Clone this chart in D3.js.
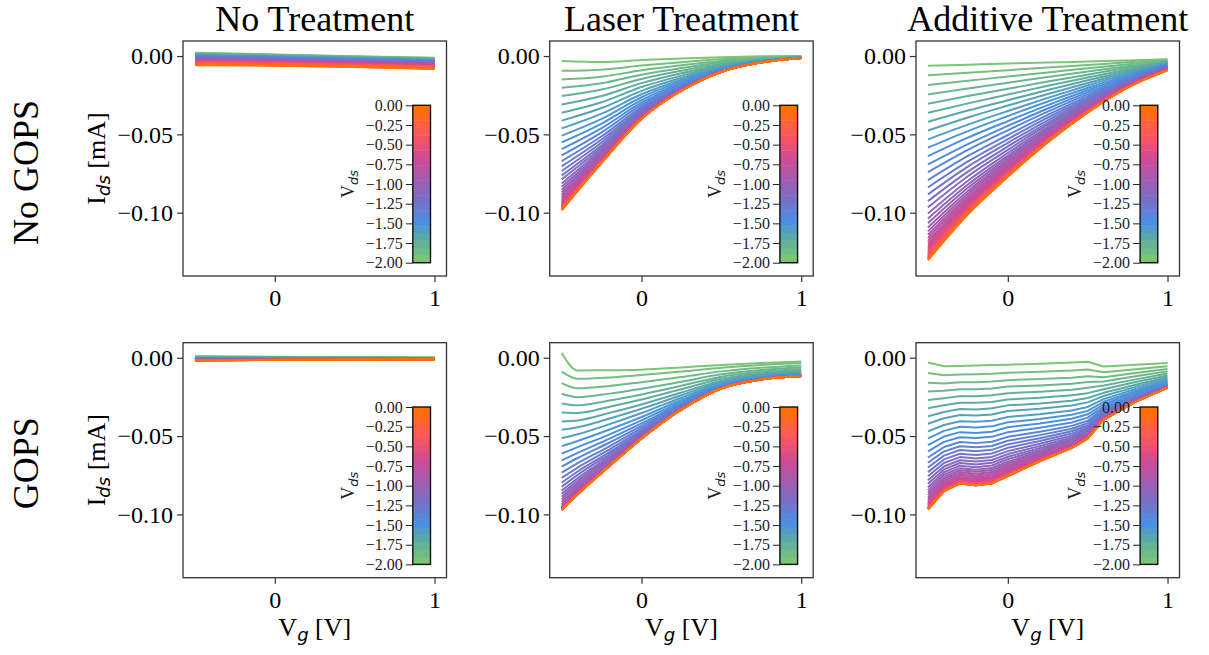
<!DOCTYPE html>
<html>
<head>
<meta charset="utf-8">
<script src="https://cdn.jsdelivr.net/npm/d3@7"></script>
<style>
  body { margin: 0; background: #fff; }
  text { font-family: "Liberation Serif", "Times New Roman", serif; }
</style>
</head>
<body>
<svg id="chart" width="1209" height="655"></svg>
<script>
// drain voltage of each curve (colour), gate voltages, currents in uA
var vdsLevels = [-2.00,-1.95,-1.90,-1.85,-1.80,-1.75,-1.70,-1.65,-1.60,-1.55,-1.50,-1.45,-1.40,-1.35,-1.30,-1.25,-1.20,-1.15,-1.10,-1.05,-1.00,
  -0.95,-0.90,-0.85,-0.80,-0.75,-0.70,-0.65,-0.60,-0.55,-0.50,-0.45,-0.40,-0.35,-0.30,-0.25,-0.20,-0.15,-0.10,-0.05,0.00];

var rowNames = ["No GOPS", "GOPS"];
var colNames = ["No Treatment", "Laser Treatment", "Additive Treatment"];
var yTicks = [0, -0.05, -0.10];
var xTicks = [0, 1];
var cbarTicks = [0, -0.25, -0.5, -0.75, -1.0, -1.25, -1.5, -1.75, -2.0];

var vgNoTreat = [-0.5, 0, 0.5, 1];
var idNoGopsNone = [
[2.1,1.0,-0.1,-1.1],[1.9,0.8,-0.3,-1.3],[1.7,0.6,-0.4,-1.5],[1.5,0.5,-0.6,-1.6],[1.3,0.3,-0.8,-1.8],
[1.1,0.1,-1.0,-2.0],[0.9,-0.1,-1.1,-2.2],[0.7,-0.3,-1.3,-2.4],[0.5,-0.4,-1.5,-2.5],[0.3,-0.6,-1.7,-2.7],
[0.1,-0.8,-1.8,-2.9],[-0.1,-1.0,-2.0,-3.1],[-0.3,-1.2,-2.2,-3.3],[-0.5,-1.3,-2.3,-3.4],[-0.7,-1.5,-2.5,-3.6],
[-0.9,-1.7,-2.7,-3.8],[-1.1,-1.9,-2.9,-4.0],[-1.3,-2.1,-3.0,-4.2],[-1.5,-2.2,-3.2,-4.3],[-1.7,-2.4,-3.4,-4.5],
[-1.9,-2.6,-3.6,-4.7],[-2.0,-2.8,-3.7,-4.9],[-2.2,-3.0,-3.9,-5.1],[-2.4,-3.1,-4.1,-5.2],[-2.6,-3.3,-4.2,-5.4],
[-2.8,-3.5,-4.4,-5.6],[-3.0,-3.7,-4.6,-5.8],[-3.2,-3.9,-4.8,-6.0],[-3.4,-4.0,-4.9,-6.1],[-3.6,-4.2,-5.1,-6.3],
[-3.8,-4.4,-5.3,-6.5],[-4.0,-4.6,-5.4,-6.7],[-4.2,-4.8,-5.6,-6.9],[-4.4,-4.9,-5.8,-7.0],[-4.6,-5.1,-6.0,-7.2],
[-4.8,-5.3,-6.1,-7.4],[-5.0,-5.5,-6.3,-7.6],[-5.2,-5.7,-6.5,-7.8],[-5.4,-5.8,-6.7,-7.9],[-5.6,-6.0,-6.8,-8.1],
[-5.8,-6.2,-7.0,-8.3]];

var vgLaser = [-0.5, -0.25, 0, 0.25, 0.5, 0.75, 1];
var idNoGopsLaser = [
[-3.2,-3.8,-2.6,-1.6,-0.8,-0.2,0],[-9.4,-8.7,-6.1,-3.9,-2.1,-0.8,-0.2],[-14.9,-13.2,-9.1,-5.9,-3.1,-1.3,-0.3],
[-20.2,-17.3,-11.9,-7.7,-4.0,-1.7,-0.5],[-25.5,-21.4,-14.6,-9.4,-4.9,-2.0,-0.6],[-30.9,-25.5,-17.3,-11.0,-5.7,-2.4,-0.7],
[-36.2,-29.5,-19.8,-12.5,-6.4,-2.7,-0.8],[-41.2,-33.2,-22.2,-13.9,-7.0,-2.9,-0.9],[-46.2,-36.8,-24.4,-15.1,-7.6,-3.2,-0.9],
[-50.8,-40.1,-26.3,-16.2,-8.0,-3.3,-1.0],[-55.1,-43.1,-28.1,-17.1,-8.4,-3.5,-1.0],[-59.4,-46.0,-29.8,-17.9,-8.7,-3.6,-1.1],
[-63.4,-48.7,-31.2,-18.6,-9.0,-3.7,-1.1],[-67.1,-51.2,-32.6,-19.3,-9.2,-3.8,-1.1],[-70.4,-53.3,-33.7,-19.8,-9.4,-3.8,-1.1],
[-73.4,-55.2,-34.7,-20.2,-9.5,-3.9,-1.2],[-76.2,-56.9,-35.5,-20.5,-9.6,-3.9,-1.2],[-78.7,-58.4,-36.2,-20.8,-9.7,-3.9,-1.2],
[-81.3,-59.8,-36.9,-21.1,-9.8,-4.0,-1.2],[-83.4,-61.1,-37.5,-21.3,-9.8,-4.0,-1.2],[-85.3,-62.1,-37.9,-21.4,-9.9,-4.0,-1.2],
[-87.0,-63.0,-38.3,-21.6,-9.9,-4.0,-1.2],[-88.5,-63.8,-38.6,-21.7,-9.9,-4.0,-1.2],[-89.9,-64.5,-38.9,-21.7,-10.0,-4.0,-1.2],
[-91.2,-65.1,-39.1,-21.8,-10.0,-4.0,-1.2],[-92.3,-65.7,-39.3,-21.9,-10.0,-4.0,-1.2],[-93.3,-66.1,-39.5,-21.9,-10.0,-4.0,-1.2],
[-94.1,-66.5,-39.6,-21.9,-10.0,-4.0,-1.2],[-94.9,-66.8,-39.7,-21.9,-10.0,-4.0,-1.2],[-95.5,-67.1,-39.8,-22.0,-10.0,-4.0,-1.2],
[-96.1,-67.3,-39.9,-22.0,-10.0,-4.0,-1.2],[-96.6,-67.5,-39.9,-22.0,-10.0,-4.0,-1.2],[-97.0,-67.6,-39.9,-22.0,-10.0,-4.0,-1.2],
[-97.3,-67.7,-40.0,-22.0,-10.0,-4.0,-1.2],[-97.6,-67.8,-40.0,-22.0,-10.0,-4.0,-1.2],[-97.8,-67.9,-40.0,-22.0,-10.0,-4.0,-1.2],
[-98.0,-67.9,-40.0,-22.0,-10.0,-4.0,-1.2],[-98.1,-68.0,-40.0,-22.0,-10.0,-4.0,-1.2],[-98.2,-68.0,-40.0,-22.0,-10.0,-4.0,-1.2],
[-98.3,-68.0,-40.0,-22.0,-10.0,-4.0,-1.2],[-98.3,-68.0,-40.0,-22.0,-10.0,-4.0,-1.2]];

var vgAdditive = [-0.5, -0.25, 0, 0.25, 0.5, 0.75, 1];
var idNoGopsAdditive = [
[-6.2,-5.5,-4.8,-4.2,-3.5,-2.8,-2.1],[-12.3,-10.6,-9.0,-7.3,-5.7,-4.0,-2.4],[-18.5,-15.8,-13.1,-10.5,-7.8,-5.3,-2.8],
[-24.5,-20.7,-17.0,-13.4,-9.9,-6.5,-3.1],[-30.4,-25.5,-20.9,-16.3,-11.9,-7.5,-3.5],[-36.2,-30.2,-24.6,-19.0,-13.7,-8.6,-3.8],
[-42.0,-34.8,-28.2,-21.7,-15.5,-9.6,-4.1],[-47.5,-39.2,-31.6,-24.2,-17.2,-10.5,-4.4],[-53.2,-43.8,-35.1,-26.7,-18.8,-11.4,-4.7],
[-58.5,-47.9,-38.3,-29.0,-20.4,-12.2,-5.0],[-63.9,-52.1,-41.5,-31.3,-21.8,-13.0,-5.3],[-69.2,-56.2,-44.6,-33.5,-23.2,-13.8,-5.6],
[-74.1,-59.9,-47.4,-35.5,-24.5,-14.4,-5.9],[-79.2,-63.8,-50.4,-37.5,-25.7,-15.1,-6.2],[-83.9,-67.3,-53.0,-39.3,-26.9,-15.7,-6.4],
[-88.3,-70.6,-55.4,-41.0,-27.9,-16.2,-6.7],[-92.6,-73.8,-57.7,-42.6,-28.9,-16.7,-6.9],[-96.6,-76.7,-59.9,-44.0,-29.8,-17.2,-7.1],
[-100.5,-79.6,-61.9,-45.4,-30.5,-17.5,-7.3],[-103.7,-82.0,-63.7,-46.5,-31.3,-17.8,-7.5],[-106.7,-84.1,-65.2,-47.5,-31.9,-18.1,-7.7],
[-109.4,-86.1,-66.6,-48.4,-32.4,-18.4,-7.8],[-111.9,-87.9,-67.9,-49.2,-32.8,-18.6,-8.0],[-114.1,-89.5,-69.1,-50.0,-33.2,-18.8,-8.1],
[-116.1,-91.0,-70.0,-50.6,-33.7,-19.0,-8.2],[-118.0,-92.2,-71.0,-51.2,-34.0,-19.1,-8.3],[-119.6,-93.4,-71.8,-51.7,-34.2,-19.2,-8.4],
[-121.1,-94.5,-72.5,-52.2,-34.5,-19.4,-8.5],[-122.5,-95.5,-73.3,-52.7,-34.8,-19.5,-8.6],[-123.7,-96.3,-73.8,-52.9,-35.0,-19.6,-8.6],
[-124.8,-97.1,-74.4,-53.3,-35.2,-19.6,-8.7],[-125.8,-97.8,-74.9,-53.6,-35.3,-19.8,-8.8],[-126.7,-98.4,-75.3,-53.8,-35.5,-19.8,-8.8],
[-127.4,-99.0,-75.6,-54.1,-35.6,-19.9,-8.8],[-128.0,-99.3,-75.9,-54.3,-35.7,-19.9,-8.9],[-128.5,-99.7,-76.1,-54.5,-35.8,-19.9,-8.9],
[-129.0,-100.1,-76.4,-54.6,-35.8,-20.0,-8.9],[-129.4,-100.4,-76.6,-54.8,-35.9,-20.0,-9.0],[-129.8,-100.7,-76.8,-54.9,-36.0,-20.0,-9.0],
[-130.0,-100.9,-76.9,-55.0,-36.0,-20.0,-9.0],[-130.3,-101.0,-77.0,-55.0,-36.0,-20.0,-9.0]];

var vgGopsNoTreat = [-0.5, 1];
var idGopsNone = [
[0.9,0.1],[0.74,0.03],[0.59,-0.04],[0.45,-0.1],[0.32,-0.16],[0.17,-0.22],[0.03,-0.28],[-0.1,-0.34],[-0.23,-0.4],[-0.35,-0.45],
[-0.47,-0.5],[-0.58,-0.55],[-0.68,-0.6],[-0.78,-0.64],[-0.87,-0.68],[-0.95,-0.71],[-1.02,-0.74],[-1.09,-0.77],[-1.15,-0.8],[-1.21,-0.83],
[-1.26,-0.85],[-1.3,-0.87],[-1.34,-0.89],[-1.38,-0.9],[-1.41,-0.92],[-1.44,-0.93],[-1.47,-0.94],[-1.49,-0.95],[-1.51,-0.96],[-1.53,-0.97],
[-1.54,-0.97],[-1.56,-0.98],[-1.57,-0.98],[-1.57,-0.99],[-1.58,-0.99],[-1.59,-0.99],[-1.59,-1.0],[-1.6,-1.0],[-1.6,-1.0],[-1.6,-1.0],
[-1.6,-1.0]];

var vgLaserGops = [-0.5, -0.4, -0.2, 0, 0.25, 0.5, 0.75, 1];
var idGopsLaser = [
[3.0,-8.1,-8.0,-7.6,-6.2,-4.6,-3.4,-2.4],[-8.9,-13.4,-12.6,-11.0,-8.8,-6.4,-4.6,-3.4],[-16.2,-19.5,-18.0,-15.6,-12.3,-8.7,-6.4,-5.0],
[-23.0,-25.2,-22.9,-19.8,-15.3,-10.6,-7.8,-6.3],[-29.2,-30.4,-27.3,-23.4,-17.9,-12.1,-9.0,-7.4],[-34.9,-35.2,-31.3,-26.7,-20.1,-13.4,-10.0,-8.2],
[-40.7,-40.0,-35.2,-29.8,-22.2,-14.6,-10.8,-9.0],[-46.0,-44.4,-38.8,-32.6,-23.9,-15.5,-11.4,-9.6],[-51.3,-48.8,-42.4,-35.3,-25.5,-16.4,-12.0,-10.1],
[-56.4,-53.1,-45.8,-37.8,-27.0,-17.1,-12.5,-10.5],[-61.2,-57.1,-48.9,-40.0,-28.2,-17.7,-12.8,-10.8],[-65.5,-60.7,-51.6,-41.9,-29.2,-18.1,-13.1,-11.1],
[-69.5,-64.0,-54.1,-43.5,-30.0,-18.5,-13.3,-11.2],[-73.4,-67.3,-56.5,-45.0,-30.7,-18.8,-13.5,-11.4],[-76.7,-70.1,-58.5,-46.3,-31.3,-19.0,-13.6,-11.5],
[-79.7,-72.6,-60.3,-47.3,-31.7,-19.1,-13.6,-11.6],[-82.4,-74.8,-61.7,-48.2,-32.0,-19.2,-13.7,-11.6],[-84.8,-76.9,-63.1,-48.9,-32.3,-19.3,-13.7,-11.6],
[-86.9,-78.6,-64.2,-49.5,-32.5,-19.4,-13.8,-11.7],[-88.8,-80.2,-65.2,-50.0,-32.7,-19.4,-13.8,-11.7],[-90.5,-81.6,-66.1,-50.4,-32.8,-19.5,-13.8,-11.7],
[-92.0,-82.8,-66.8,-50.7,-32.9,-19.5,-13.8,-11.7],[-93.3,-84.0,-67.4,-51.0,-32.9,-19.5,-13.8,-11.7],[-94.4,-84.8,-67.9,-51.2,-33.0,-19.5,-13.8,-11.7],
[-95.3,-85.6,-68.3,-51.3,-33.0,-19.5,-13.8,-11.7],[-95.9,-86.1,-68.5,-51.4,-33.0,-19.5,-13.8,-11.7],[-96.3,-86.5,-68.7,-51.4,-33.0,-19.5,-13.8,-11.7],
[-96.6,-86.7,-68.8,-51.5,-33.0,-19.5,-13.8,-11.7],[-96.8,-86.8,-68.9,-51.5,-33.0,-19.5,-13.8,-11.7],[-96.9,-87.0,-68.9,-51.5,-33.0,-19.5,-13.8,-11.7],
[-97.0,-87.1,-69.0,-51.5,-33.0,-19.5,-13.8,-11.7],[-97.1,-87.1,-69.0,-51.5,-33.0,-19.5,-13.8,-11.7],[-97.1,-87.1,-69.0,-51.5,-33.0,-19.5,-13.8,-11.7],
[-97.1,-87.1,-69.0,-51.5,-33.0,-19.5,-13.8,-11.7],[-97.1,-87.1,-69.0,-51.5,-33.0,-19.5,-13.8,-11.7],[-97.1,-87.1,-69.0,-51.5,-33.0,-19.5,-13.8,-11.7],
[-97.2,-87.2,-69.0,-51.5,-33.0,-19.5,-13.8,-11.7],[-97.2,-87.2,-69.0,-51.5,-33.0,-19.5,-13.8,-11.7],[-97.2,-87.2,-69.0,-51.5,-33.0,-19.5,-13.8,-11.7],
[-97.2,-87.2,-69.0,-51.5,-33.0,-19.5,-13.8,-11.7],[-97.2,-87.2,-69.0,-51.5,-33.0,-19.5,-13.8,-11.7]];

var vgAdditiveGops = [-0.5, -0.4, -0.3, -0.2, -0.1, 0, 0.2, 0.4, 0.5, 0.6, 0.8, 1];
var idGopsAdditive = [
[-3.0,-5.4,-5.3,-5.0,-4.7,-4.4,-3.8,-3.1,-2.6,-5.6,-4.5,-3.3],
[-9.8,-11.2,-10.7,-10.5,-10.2,-9.6,-9.0,-8.2,-7.5,-9.2,-7.3,-5.4],
[-16.0,-16.5,-15.7,-15.6,-15.2,-14.3,-13.6,-12.7,-11.8,-12.4,-9.8,-7.2],
[-21.5,-21.1,-20.1,-20.1,-19.6,-18.4,-17.7,-16.6,-15.5,-15.1,-11.8,-8.7],
[-27.0,-25.8,-24.5,-24.6,-24.0,-22.6,-21.7,-20.5,-19.2,-17.7,-13.8,-10.1],
[-32.2,-30.3,-28.7,-28.8,-28.3,-26.6,-25.6,-24.0,-22.6,-20.1,-15.5,-11.3],
[-37.3,-34.6,-32.7,-33.0,-32.3,-30.4,-29.2,-27.4,-25.7,-22.4,-17.2,-12.4],
[-42.1,-38.6,-36.5,-36.9,-36.2,-34.0,-32.5,-30.5,-28.5,-24.4,-18.6,-13.4],
[-47.0,-42.9,-40.5,-40.9,-40.2,-37.8,-36.0,-33.7,-31.4,-26.4,-20.0,-14.4],
[-51.5,-46.7,-44.1,-44.6,-43.8,-41.2,-39.1,-36.4,-33.9,-28.1,-21.2,-15.1],
[-55.8,-50.3,-47.5,-48.0,-47.2,-44.4,-42.0,-38.9,-36.1,-29.7,-22.2,-15.8],
[-59.8,-53.7,-50.7,-51.3,-50.5,-47.5,-44.7,-41.3,-38.2,-31.1,-23.2,-16.4],
[-63.7,-57.0,-53.8,-54.5,-53.6,-50.5,-47.3,-43.5,-40.2,-32.4,-24.0,-16.9],
[-67.0,-59.8,-56.5,-57.2,-56.3,-53.0,-49.4,-45.3,-41.7,-33.5,-24.7,-17.3],
[-70.1,-62.5,-58.9,-59.7,-58.8,-55.3,-51.4,-46.9,-43.1,-34.4,-25.2,-17.6],
[-73.0,-64.9,-61.3,-62.1,-61.1,-57.5,-53.2,-48.4,-44.4,-35.2,-25.7,-17.9],
[-75.7,-67.2,-63.4,-64.3,-63.3,-59.6,-54.9,-49.7,-45.5,-35.9,-26.1,-18.2],
[-78.2,-69.4,-65.4,-66.3,-65.3,-61.5,-56.4,-50.9,-46.5,-36.6,-26.5,-18.4],
[-80.5,-71.3,-67.2,-68.2,-67.1,-63.2,-57.7,-52.0,-47.3,-37.1,-26.8,-18.5],
[-82.6,-73.1,-68.9,-69.9,-68.8,-64.8,-58.9,-52.8,-48.0,-37.5,-27.1,-18.7],
[-84.5,-74.7,-70.5,-71.5,-70.4,-66.3,-60.0,-53.7,-48.7,-37.9,-27.3,-18.8],
[-86.2,-76.2,-71.8,-72.8,-71.7,-67.5,-61.0,-54.3,-49.2,-38.2,-27.4,-18.8],
[-87.7,-77.4,-73.0,-74.1,-73.0,-68.7,-61.8,-54.9,-49.6,-38.5,-27.6,-18.9],
[-89.1,-78.6,-74.1,-75.2,-74.1,-69.7,-62.5,-55.4,-50.0,-38.7,-27.7,-19.0],
[-90.4,-79.8,-75.2,-76.3,-75.1,-70.7,-63.2,-55.9,-50.4,-38.9,-27.8,-19.0],
[-91.6,-80.8,-76.2,-77.3,-76.1,-71.7,-63.8,-56.3,-50.7,-39.1,-27.8,-19.0],
[-92.6,-81.6,-76.9,-78.0,-76.9,-72.4,-64.3,-56.6,-50.9,-39.2,-27.9,-19.1],
[-93.5,-82.4,-77.7,-78.8,-77.6,-73.1,-64.7,-56.8,-51.1,-39.3,-27.9,-19.1],
[-94.3,-83.0,-78.3,-79.4,-78.2,-73.7,-65.1,-57.0,-51.2,-39.4,-28.0,-19.1],
[-95.0,-83.7,-78.9,-80.0,-78.8,-74.2,-65.4,-57.2,-51.3,-39.4,-28.0,-19.1],
[-95.5,-84.1,-79.2,-80.4,-79.2,-74.6,-65.6,-57.3,-51.4,-39.5,-28.0,-19.1],
[-95.9,-84.4,-79.5,-80.7,-79.5,-74.9,-65.8,-57.4,-51.4,-39.5,-28.0,-19.1],
[-96.2,-84.7,-79.8,-81.0,-79.8,-75.1,-65.9,-57.5,-51.5,-39.5,-28.0,-19.1],
[-96.4,-84.9,-80.0,-81.2,-80.0,-75.3,-66.0,-57.5,-51.5,-39.5,-28.0,-19.1],
[-96.5,-85.0,-80.1,-81.3,-80.1,-75.4,-66.0,-57.5,-51.5,-39.5,-28.0,-19.1],
[-96.6,-85.0,-80.1,-81.3,-80.1,-75.4,-66.0,-57.5,-51.5,-39.5,-28.0,-19.1],
[-96.7,-85.1,-80.2,-81.4,-80.2,-75.5,-66.0,-57.5,-51.5,-39.5,-28.0,-19.1],
[-96.7,-85.1,-80.2,-81.4,-80.2,-75.5,-66.0,-57.5,-51.5,-39.5,-28.0,-19.1],
[-96.7,-85.1,-80.2,-81.4,-80.2,-75.5,-66.0,-57.5,-51.5,-39.5,-28.0,-19.1],
[-96.7,-85.1,-80.2,-81.4,-80.2,-75.5,-66.0,-57.5,-51.5,-39.5,-28.0,-19.1],
[-96.7,-85.1,-80.2,-81.4,-80.2,-75.5,-66.0,-57.5,-51.5,-39.5,-28.0,-19.1]];

// colormap of the Vds colour bar, green (-2) to orange (0)
var cmapStops = [-2.0, -1.75, -1.5, -1.2, -0.9, -0.65, -0.4, -0.2, 0.0];
var cmapColors = ["#7cc576", "#5fae9c", "#4a90e2", "#7a6fc6", "#a85aae", "#d04a95", "#f45566", "#ff6140", "#ff7000"];

var panels = [
  {row: 0, col: 0, xs: vgNoTreat, ids: idNoGopsNone, curve: d3.curveLinear},
  {row: 0, col: 1, xs: vgLaser, ids: idNoGopsLaser, curve: d3.curveMonotoneX},
  {row: 0, col: 2, xs: vgAdditive, ids: idNoGopsAdditive, curve: d3.curveMonotoneX},
  {row: 1, col: 0, xs: vgGopsNoTreat, ids: idGopsNone, curve: d3.curveLinear},
  {row: 1, col: 1, xs: vgLaserGops, ids: idGopsLaser, curve: d3.curveMonotoneX},
  {row: 1, col: 2, xs: vgAdditiveGops, ids: idGopsAdditive, curve: d3.curveLinear}
];

// layout
var W = 263.5, H = 235;
var colLeft = [183, 549.7, 916];
var rowTop = [41, 342.7];
var cbarRight = [16, 15.6, 21.7];   // gap from axes right edge to colour bar
var cbarW = 17.7, cbarH = 157.4, cbarTop = 64.3;
var ink = "#333";

var svg = d3.select("#chart");
svg.append("rect").attr("width", 1209).attr("height", 655).attr("fill", "#fff");

var x = d3.scaleLinear().domain([-0.575, 1.075]).range([0, W]);
var y = d3.scaleLinear().domain([-0.1404, 0.0096]).range([H, 0]);
var color = d3.scaleLinear().domain(cmapStops).range(cmapColors).interpolate(d3.interpolateRgb);
var fmt = d3.format(".2f");

panels.forEach(function(p) {
  var g = svg.append("g")
    .attr("transform", "translate(" + colLeft[p.col] + "," + rowTop[p.row] + ")");

  var line = d3.line()
    .x(function(d) { return x(d[0]); })
    .y(function(d) { return y(d[1] / 1000); })   // uA -> mA
    .curve(p.curve);

  g.selectAll("path.iv")
    .data(p.ids)
    .enter().append("path")
    .attr("class", "iv")
    .attr("fill", "none")
    .attr("stroke-width", 2)
    .attr("stroke-linejoin", "round")
    .attr("stroke", function(d, i) { return color(vdsLevels[i]); })
    .attr("d", function(row) { return line(row.map(function(v, j) { return [p.xs[j], v]; })); });

  // axes
  var ya = g.append("g")
    .call(d3.axisLeft(y).tickValues(yTicks).tickFormat(fmt).tickSize(6).tickPadding(4));
  var xa = g.append("g")
    .attr("transform", "translate(0," + H + ")")
    .call(d3.axisBottom(x).tickValues(xTicks).tickFormat(d3.format("d")).tickSize(6).tickPadding(7));
  [ya, xa].forEach(function(a) {
    a.select(".domain").remove();
    a.attr("font-size", 24).attr("font-family", "Liberation Serif");
    a.selectAll("line").attr("stroke", ink).attr("stroke-width", 1.2);
    a.selectAll("text").attr("fill", "#000");
  });

  g.append("rect")
    .attr("width", W).attr("height", H)
    .attr("fill", "none").attr("stroke", ink).attr("stroke-width", 1.3);

  // colour bar (inset)
  var cb = g.append("g")
    .attr("transform", "translate(" + (W - cbarRight[p.col] - cbarW) + "," + cbarTop + ")");
  var cy = d3.scaleLinear().domain([-2, 0]).range([cbarH, 0]);
  var bands = d3.range(21).map(function(k) { return -2 + k * 0.1; });
  var bandH = cbarH / 21;
  cb.selectAll("rect.band")
    .data(bands)
    .enter().append("rect")
    .attr("class", "band")
    .attr("x", 0)
    .attr("width", cbarW)
    .attr("y", function(d, k) { return cbarH - (k + 1) * bandH; })
    .attr("height", bandH + 0.5)
    .attr("fill", function(d) { return color(d); });
  cb.append("rect")
    .attr("width", cbarW).attr("height", cbarH)
    .attr("fill", "none").attr("stroke", "#111").attr("stroke-width", 1.4);
  var ca = cb.append("g")
    .call(d3.axisLeft(cy).tickValues(cbarTicks).tickFormat(fmt).tickSize(7).tickPadding(3));
  ca.select(".domain").remove();
  ca.attr("font-size", 16).attr("font-family", "Liberation Serif");
  ca.selectAll("line").attr("stroke", "#222").attr("stroke-width", 1);
  ca.selectAll("text").attr("fill", "#222");

  var cl = cb.append("text")
    .attr("transform", "translate(-59," + (cbarH / 2) + ") rotate(-90)")
    .attr("text-anchor", "middle")
    .attr("font-size", 18)
    .attr("fill", "#222");
  cl.append("tspan").text("V");
  cl.append("tspan").text("ds")
    .attr("font-family", "DejaVu Sans").attr("font-style", "italic")
    .attr("font-size", 13).attr("dy", 4);

  // y label on the first column, x label on the bottom row
  if (p.col === 0) {
    var yl = svg.append("text")
      .attr("transform", "translate(105," + (rowTop[p.row] + H / 2) + ") rotate(-90)")
      .attr("text-anchor", "middle")
      .attr("font-size", 26);
    yl.append("tspan").text("I");
    yl.append("tspan").text("ds")
      .attr("font-family", "DejaVu Sans").attr("font-style", "italic")
      .attr("font-size", 18).attr("dy", 5);
    yl.append("tspan").text(" [mA]").attr("dy", -5);
  }
  if (p.row === 1) {
    var xl = svg.append("text")
      .attr("x", colLeft[p.col] + W / 2)
      .attr("y", 636)
      .attr("text-anchor", "middle")
      .attr("font-size", 26);
    xl.append("tspan").text("V");
    xl.append("tspan").text("g")
      .attr("font-family", "DejaVu Sans").attr("font-style", "italic")
      .attr("font-size", 18).attr("dy", 5);
    xl.append("tspan").text(" [V]").attr("dy", -5);
  }
});

// column titles
svg.selectAll("text.coltitle")
  .data(colNames)
  .enter().append("text")
  .attr("class", "coltitle")
  .attr("x", function(d, i) { return colLeft[i] + W / 2; })
  .attr("y", 31)
  .attr("text-anchor", "middle")
  .attr("font-size", 36)
  .text(function(d) { return d; });

// row titles
var rowLabelY = [172.5, 463.3];
svg.selectAll("text.rowtitle")
  .data(rowNames)
  .enter().append("text")
  .attr("class", "rowtitle")
  .attr("transform", function(d, i) { return "translate(38," + rowLabelY[i] + ") rotate(-90)"; })
  .attr("text-anchor", "middle")
  .attr("font-size", 36)
  .text(function(d) { return d; });
</script>
</body>
</html>
